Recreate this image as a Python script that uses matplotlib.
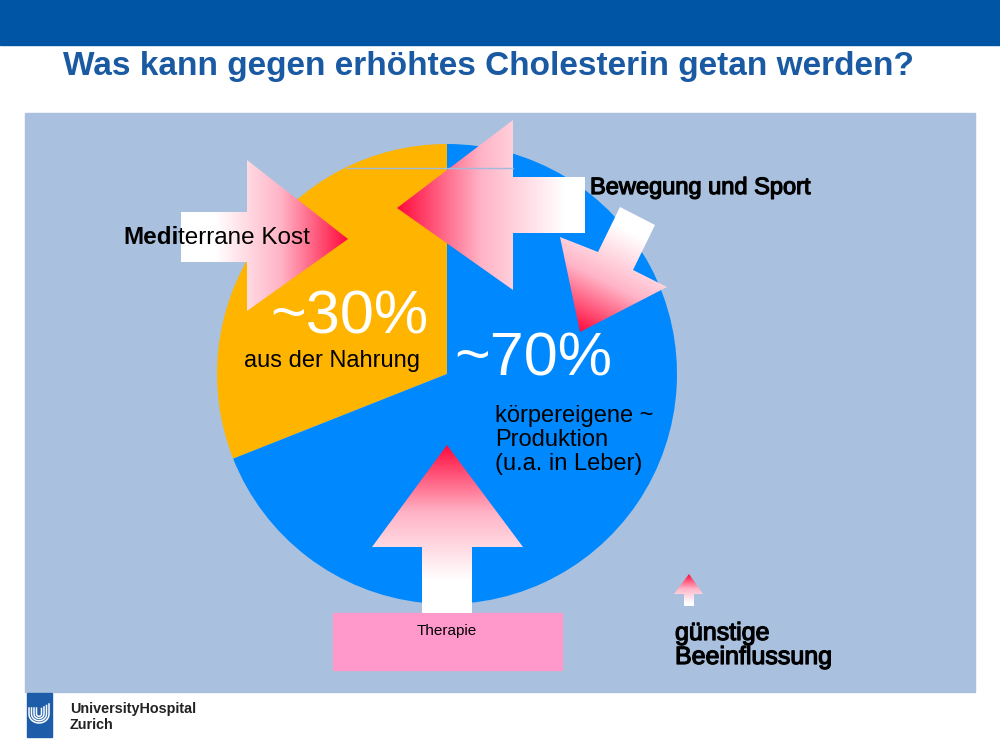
import numpy as np
import matplotlib.pyplot as plt
from matplotlib.patches import Rectangle, Polygon
from matplotlib.colors import LinearSegmentedColormap
import matplotlib.patheffects as pe

plt.rcParams['font.family'] = ['Liberation Sans', 'DejaVu Sans']

# data
shares = [31, 69]
share_labels = ['~30%', '~70%']
share_texts = ['aus der Nahrung', 'körpereigene ~\nProduktion\n(u.a. in Leber)']
share_colors = ['#ffb400', '#0088ff']
title = 'Was kann gegen erhöhtes Cholesterin getan werden?'
influences = ['Mediterrane Kost', 'Bewegung und Sport', 'Therapie']
legend_text = 'günstige\nBeeinflussung'

grad = LinearSegmentedColormap.from_list(
    'g', [(0, '#ffffff'), (0.5, '#ffb3c6'), (1, '#ff0a3c')])

fig = plt.figure(figsize=(10, 7.5), dpi=100)
ax = fig.add_axes([0, 0, 1, 1])


def grad_arrow(pts, p0, p1, z=3):
    pts = np.array(pts, float)
    poly = Polygon(pts, closed=True, facecolor='none', edgecolor='none')
    ax.add_patch(poly)
    x0, y0 = pts.min(axis=0)
    x1, y1 = pts.max(axis=0)
    n = 200
    xs = x0 + (np.arange(n) + 0.5) * (x1 - x0) / n
    ys = y0 + (np.arange(n) + 0.5) * (y1 - y0) / n
    X, Y = np.meshgrid(xs, ys)
    d = np.array(p1, float) - np.array(p0, float)
    t = ((X - p0[0]) * d[0] + (Y - p0[1]) * d[1]) / (d ** 2).sum()
    im = ax.imshow(np.clip(t, 0, 1), cmap=grad, vmin=0, vmax=1,
                   extent=(x0, x1, y1, y0), origin='upper',
                   interpolation='bilinear', zorder=z)
    im.set_clip_path(poly)


# background
ax.add_patch(Rectangle((0, 0), 1000, 45, color='#0055a5', zorder=0))
ax.add_patch(Rectangle((25, 113), 950, 579, color='#a9c1de', zorder=0))
ax.text(488, 66, title, ha='center', va='center', fontsize=24,
        fontweight='bold', color='#1a5aa3')

# pie (y axis inverted -> clockwise in data is counter-clockwise on screen)
wedges, _ = ax.pie(shares, colors=share_colors, startangle=-90,
                   counterclock=False, center=(447, 374), radius=230,
                   wedgeprops=dict(linewidth=0))
for w in wedges:
    w.set_zorder(1)

# arrows
grad_arrow([(181, 212), (247, 212), (247, 160), (348, 239), (247, 311),
            (247, 262), (181, 262)], (215, 239), (348, 239))
grad_arrow([(397, 208), (513, 120), (513, 177), (585, 177), (585, 233),
            (513, 233), (513, 290)], (565, 208), (397, 208))
grad_arrow([(620, 207), (655, 225), (633, 270), (667, 287), (580, 332),
            (560, 237), (598, 252)], (630, 232), (580, 332))
grad_arrow([(447, 445), (523, 547), (472, 547), (472, 613), (422, 613),
            (422, 547), (372, 547)], (447, 580), (447, 445))
grad_arrow([(689, 574), (703, 594), (694, 594), (694, 606), (684, 606),
            (684, 594), (674, 594)], (689, 603), (689, 574))
ax.plot([347, 513], [168, 168], color='#a3bbdb', lw=1, zorder=4)

# therapy box
ax.add_patch(Rectangle((333, 613), 229, 57, color='#ff99cc', zorder=2))
ax.text(447, 631, influences[2], ha='center', va='center', fontsize=11,
        color='black', zorder=5)

# pie texts
ax.text(349, 318, share_labels[0], ha='center', va='center', fontsize=44,
        color='white', zorder=5)
ax.text(533, 360, share_labels[1], ha='center', va='center', fontsize=44,
        color='white', zorder=5)
ax.text(332, 361, share_texts[0], ha='center', va='center', fontsize=17,
        color='black', zorder=5)
ax.text(495, 440, share_texts[1], ha='left', va='center', fontsize=17,
        color='black', linespacing=1.13, zorder=5)

# influence labels
heavy = [pe.withStroke(linewidth=0.9, foreground='black')]
t1 = ax.text(123, 238, influences[0][:4], ha='left', va='center',
             fontsize=17.5, fontweight='bold', zorder=5)
ax.annotate(influences[0][4:], xy=(1, 0), xycoords=t1, ha='left',
            va='bottom', fontsize=17.5, zorder=5)
ax.text(590, 188, influences[1], ha='left', va='center', fontsize=17,
        path_effects=heavy, zorder=5)
ax.text(675, 645, legend_text, ha='left', va='center', fontsize=18,
        linespacing=1.0, path_effects=heavy, zorder=5)

# logo: nested white U shapes on a blue square
ax.add_patch(Rectangle((27, 693), 25, 44, color='#1d5ca8', zorder=2))
th = np.linspace(0, np.pi, 30)
for r in [2.5, 5, 7.5, 10]:
    xs = np.concatenate([[39 + r], 39 + r * np.cos(th), [39 - r]])
    ys = np.concatenate([[704 + (10 - r) * 0.6], 714 + r * np.sin(th) * 0.9,
                         [708]])
    ax.plot(xs, ys, color='white', lw=1.1, zorder=3)
ax.text(70, 717, 'UniversityHospital\nZurich', ha='left', va='center',
        fontsize=10.4, fontweight='bold', color='#222222', linespacing=1.2)

ax.set_xlim(0, 1000)
ax.set_ylim(750, 0)
ax.set_aspect('auto')
ax.axis('off')
fig.savefig('out.png', dpi=100)
